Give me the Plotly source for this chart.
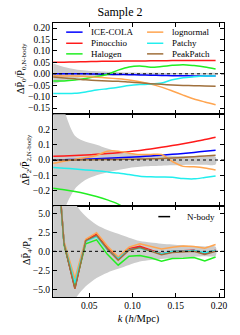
import plotly.graph_objects as go
from plotly.subplots import make_subplots

# ---------------- data ----------------
k = [0.0085, 0.021, 0.0335, 0.046, 0.0585, 0.071, 0.0835, 0.096, 0.1085,
     0.121, 0.1335, 0.146, 0.1585, 0.171, 0.1835, 0.196]

series_names = ["ICE-COLA", "Pinocchio", "Halogen", "lognormal", "Patchy", "PeakPatch"]
series_colors = ["#0000ff", "#ff1a1a", "#22ee22", "#ffa550", "#22eeee", "#a0703c"]

# monopole  dP0 / P0,N-body
p0_icecola = [0.0, 0.0, 0.0, 0.0, -0.001, -0.002, -0.003, -0.004, -0.005, -0.006, -0.007, -0.008, -0.008, -0.009, -0.009, -0.010]
p0_pinocchio = [0.050, 0.051, 0.052, 0.053, 0.054, 0.055, 0.055, 0.056, 0.056, 0.057, 0.057, 0.058, 0.058, 0.058, 0.058, 0.058]
p0_halogen = [-0.031, -0.031, -0.027, -0.020, -0.012, -0.002, 0.016, 0.030, 0.034, 0.029, 0.032, 0.037, 0.040, 0.036, 0.030, 0.021]
p0_lognormal = [-0.008, -0.009, -0.010, -0.012, -0.015, -0.018, -0.022, -0.027, -0.035, -0.045, -0.058, -0.075, -0.093, -0.110, -0.123, -0.135]
p0_patchy = [-0.086, -0.086, -0.085, -0.079, -0.071, -0.065, -0.059, -0.051, -0.047, -0.045, -0.040, -0.026, -0.017, -0.013, -0.010, -0.009]
p0_peakpatch = [-0.014, -0.018, -0.022, -0.026, -0.029, -0.031, -0.033, -0.036, -0.039, -0.043, -0.046, -0.049, -0.051, -0.052, -0.053, -0.054]
p0_band_hi = [0.045, 0.030, 0.020, 0.014, 0.011, 0.009, 0.007, 0.006, 0.005, 0.0045, 0.004, 0.0035, 0.003, 0.003, 0.003, 0.003]
p0_band_lo = [-0.045, -0.030, -0.020, -0.014, -0.011, -0.009, -0.007, -0.006, -0.005, -0.0045, -0.004, -0.0035, -0.003, -0.003, -0.003, -0.003]

# quadrupole  dP2 / P2,N-body
p2_icecola = [0.0, 0.002, 0.004, 0.006, 0.008, 0.011, 0.014, 0.018, 0.022, 0.027, 0.032, 0.037, 0.043, 0.050, 0.057, 0.064]
p2_pinocchio = [0.024, 0.026, 0.029, 0.033, 0.037, 0.042, 0.048, 0.055, 0.063, 0.072, 0.083, 0.095, 0.107, 0.120, 0.134, 0.150]
p2_halogen = [-0.185, -0.195, -0.207, -0.222, -0.240, -0.262, -0.290, -0.330, -0.370, -0.410, -0.450, -0.490, -0.530, -0.570, -0.610, -0.650]
p2_lognormal = [-0.022, -0.008, 0.004, 0.016, 0.030, 0.058, 0.058, 0.045, 0.036, 0.036, 0.036, -0.010, -0.042, -0.045, -0.052, -0.066]
p2_patchy = [-0.050, -0.054, -0.059, -0.065, -0.071, -0.078, -0.086, -0.096, -0.106, -0.110, -0.112, -0.114, -0.122, -0.124, -0.115, -0.105]
p2_peakpatch = [0.0, 0.0, 0.0, 0.001, 0.002, 0.003, 0.004, 0.005, 0.006, 0.008, 0.010, 0.013, 0.017, 0.022, 0.027, 0.032]
p2_band_hi = [0.60, 0.33, 0.16, 0.12, 0.10, 0.075, 0.055, 0.045, 0.038, 0.033, 0.030, 0.028, 0.026, 0.024, 0.023, 0.022]
p2_band_lo = [-0.60, -0.33, -0.19, -0.13, -0.10, -0.080, -0.065, -0.052, -0.045, -0.040, -0.037, -0.035, -0.033, -0.032, -0.031, -0.030]

# hexadecapole  dP4 / P4
p4_icecola = [19.0, 1.0, -4.7, 1.4, 2.1, 0.3, -1.0, 0.25, 0.55, 0.1, -0.35, -0.05, 0.0, 0.1, -0.3, 0.1]
p4_pinocchio = [19.0, 1.0, -4.9, 1.5, 2.25, 0.4, -0.95, 0.35, 0.65, 0.2, -0.3, 0.0, 0.05, 0.15, -0.25, 0.15]
p4_halogen = [19.0, 0.8, -4.5, 1.0, 1.5, -0.4, -1.82, -0.65, -0.55, -0.85, -1.3, -0.95, -0.9, -0.8, -1.25, -0.75]
p4_lognormal = [19.0, 1.3, -3.6, 1.6, 2.45, 0.7, -0.75, 0.55, 1.0, 0.6, 0.3, 0.55, 0.7, 0.65, 0.4, 0.9]
p4_patchy = [19.0, 1.0, -4.2, 1.3, 1.95, 0.2, -0.95, 0.2, 0.4, 0.05, -0.3, 0.0, 0.0, 0.1, -0.2, 0.1]
p4_peakpatch = [19.0, 1.0, -4.9, 1.4, 2.1, 0.3, -1.15, 0.15, 0.5, 0.0, -0.45, -0.15, -0.1, 0.0, -0.4, 0.0]
p4_band_hi = [25.0, 9.0, 6.3, 4.6, 3.5, 2.8, 2.3, 1.8, 1.35, 1.15, 1.0, 0.9, 0.8, 0.7, 0.65, 0.6]
p4_band_lo = [-25.0, -9.0, -6.3, -4.6, -3.5, -2.8, -2.3, -1.8, -1.35, -1.15, -1.0, -0.9, -0.8, -0.7, -0.65, -0.6]

x_ticks = [0.05, 0.10, 0.15, 0.20]
p0_ticks = [0.20, 0.15, 0.10, 0.05, 0.0, -0.05, -0.10, -0.15]
p2_ticks = [0.2, 0.1, 0.0, -0.1, -0.2]
p4_ticks = [5.0, 2.5, 0.0, -2.5, -5.0]

# ---------------- figure ----------------
FONT = "Liberation Serif"
BAND = "#cccccc"

fig = make_subplots(rows=3, cols=1, shared_xaxes=True, vertical_spacing=0)

panels = [
    (1, [p0_icecola, p0_pinocchio, p0_halogen, p0_lognormal, p0_patchy, p0_peakpatch], p0_band_hi, p0_band_lo, "spline"),
    (2, [p2_icecola, p2_pinocchio, p2_halogen, p2_lognormal, p2_patchy, p2_peakpatch], p2_band_hi, p2_band_lo, "spline"),
    (3, [p4_icecola, p4_pinocchio, p4_halogen, p4_lognormal, p4_patchy, p4_peakpatch], p4_band_hi, p4_band_lo, "linear"),
]

for row, series, hi, lo, shape in panels:
    fig.add_trace(go.Scatter(x=k + k[::-1], y=hi + lo[::-1], fill="toself", fillcolor=BAND,
                             line=dict(width=0, shape="spline", smoothing=0.8), mode="lines",
                             showlegend=False, hoverinfo="skip"), row=row, col=1)
    for name, color, ys in zip(series_names, series_colors, series):
        fig.add_trace(go.Scatter(x=k, y=ys, mode="lines", name=name,
                                 line=dict(color=color, width=1.5, shape=shape, smoothing=0.8),
                                 showlegend=False), row=row, col=1)
    fig.add_hline(y=0, line=dict(color="black", width=1, dash="dot"), row=row, col=1)

axis_common = dict(showline=True, linecolor="black", linewidth=1, mirror="allticks",
                   ticks="inside", ticklen=4, tickwidth=1, tickcolor="black",
                   showgrid=False, zeroline=False,
                   tickfont=dict(family=FONT, size=9.5, color="black"))

for row in (1, 2, 3):
    fig.update_xaxes(range=[0.0082, 0.2057], tickvals=x_ticks, tickformat=".2f",
                     showticklabels=(row == 3), **axis_common, row=row, col=1)

fig.update_xaxes(title=dict(text="<i>k</i> (<i>h</i>/Mpc)", font=dict(family=FONT, size=10.5, color="black"),
                            standoff=4), row=3, col=1)

fig.update_yaxes(range=[-0.177, 0.222], tickvals=p0_ticks, tickformat=".2f", **axis_common,
                 title=dict(text="ΔP\u0304<sub>0</sub>/P\u0304<sub>0,N-body</sub>",
                            font=dict(family=FONT, size=10, color="black"), standoff=0), row=1, col=1)
fig.update_yaxes(range=[-0.3, 0.3], tickvals=p2_ticks, tickformat=".1f", **axis_common,
                 title=dict(text="ΔP\u0304<sub>2</sub>/P\u0304<sub>2,N-body</sub>",
                            font=dict(family=FONT, size=10, color="black"), standoff=0), row=2, col=1)
fig.update_yaxes(range=[-6.0, 6.0], tickvals=p4_ticks, tickformat=".1f", **axis_common,
                 title=dict(text="ΔP\u0304<sub>4</sub>/P<sub>4</sub>",
                            font=dict(family=FONT, size=10, color="black"), standoff=0), row=3, col=1)

# ---------------- legend (key lines + labels) ----------------
leg_rows = [0.90, 0.778, 0.662]
leg_cols = [(0.077, 0.173, 0.212), (0.55, 0.645, 0.684)]
for i, (name, color) in enumerate(zip(series_names, series_colors)):
    c = leg_cols[i // 3]
    ry = leg_rows[i % 3]
    fig.add_shape(type="line", xref="x domain", yref="y domain", x0=c[0], x1=c[1], y0=ry, y1=ry,
                  line=dict(color=color, width=1.5), row=1, col=1)
    fig.add_annotation(xref="x domain", yref="y domain", x=c[2], y=ry, text=name, showarrow=False,
                       xanchor="left", yanchor="middle", font=dict(family=FONT, size=9, color="black"),
                       row=1, col=1)

fig.add_shape(type="line", xref="x3 domain", yref="y3 domain", x0=0.616, x1=0.685, y0=0.88, y1=0.88,
              line=dict(color="black", width=1.5))
fig.add_annotation(xref="x3 domain", yref="y3 domain", x=0.77, y=0.88, text="N-body", showarrow=False,
                   xanchor="left", yanchor="middle", font=dict(family=FONT, size=9, color="black"))

fig.update_layout(
    width=240, height=335,
    margin=dict(l=53, r=13, t=23, b=36),
    paper_bgcolor="white", plot_bgcolor="white",
    showlegend=False,
    title=dict(text="Sample 2", x=0.5, xref="container", xanchor="center",
               y=1 - 11.5 / 335, yref="container", yanchor="middle",
               font=dict(family=FONT, size=12, color="black")),
    font=dict(family=FONT, color="black"),
)

fig.write_html("out.html", config={"displayModeBar": False, "staticPlot": True},
               post_script="document.body.style.margin='0';document.body.style.overflow='hidden';")
